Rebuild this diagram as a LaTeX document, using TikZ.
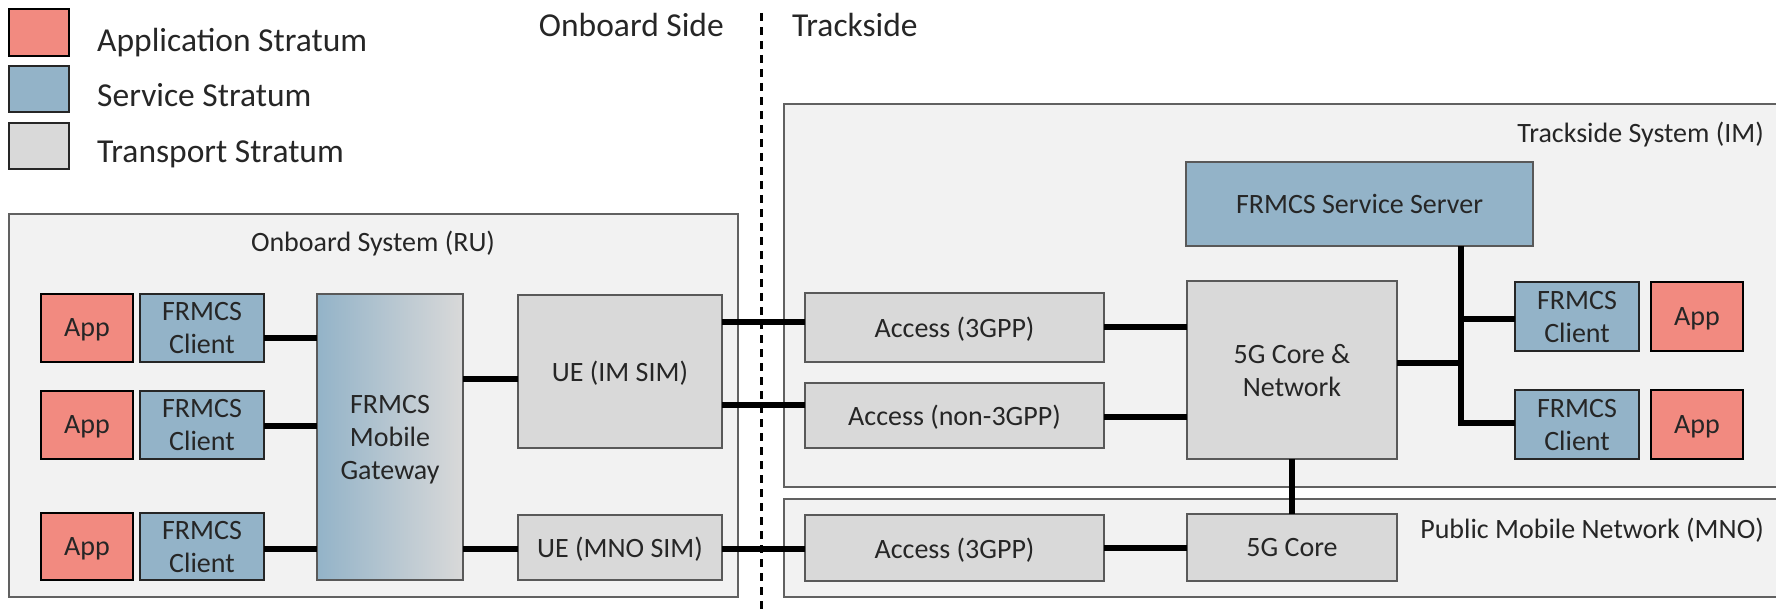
\documentclass[tikz,border=0pt]{standalone}
\usepackage{fontspec}
\setmainfont{Carlito}
\definecolor{appc}{RGB}{242,138,128}
\definecolor{svcc}{RGB}{147,179,200}
\definecolor{trc}{RGB}{217,217,217}
\definecolor{bgc}{RGB}{242,242,242}
\definecolor{txt}{RGB}{38,38,38}
\begin{document}
\begin{tikzpicture}[x=1pt,y=-1pt,
  lbl/.style={font=\fontsize{28}{33}\selectfont, text=txt, align=center},
  hdr/.style={font=\fontsize{33.5}{38}\selectfont, text=txt, inner sep=0},
  sub/.style={font=\fontsize{28}{33}\selectfont, text=txt, inner sep=0},
  box/.style={lbl, draw=black!65, line width=2pt, inner sep=0, outer sep=0, text depth=0pt},
  appbox/.style={box, fill=appc, draw=black, line width=2.5pt},
  svcbox/.style={box, fill=svcc, draw=black!85, line width=2.5pt},
  srvbox/.style={box, fill=svcc},
  trbox/.style={box, fill=trc},
  gwbox/.style={box, left color=svcc, right color=trc},
  container/.style={draw=black!62, fill=bgc, line width=2pt, inner sep=0, outer sep=0, anchor=north west},
  conn/.style={line width=6.5pt, black},
  divider/.style={line width=3pt, black, dash pattern=on 8pt off 6pt}]
\useasboundingbox (0,0) rectangle (1776,609);
\clip (0,0) rectangle (1776,609);

% legend
\node[appbox, minimum width=60, minimum height=47] (legapp) at (39,32.5) {};
\node[svcbox, minimum width=60, minimum height=46] (legsvc) at (39,89) {};
\node[trbox, draw=black!85, line width=2.5pt, minimum width=60, minimum height=46] (legtr) at (39,146) {};
\node[hdr, anchor=base west] (legapptxt) at (97,52) {Application Stratum};
\node[hdr, anchor=base west] (legsvctxt) at (97,107) {Service Stratum};
\node[hdr, anchor=base west] (legtrtxt) at (97,163) {Transport Stratum};

% side labels
\node[hdr, anchor=base east] (onside) at (724,37) {Onboard Side};
\node[hdr, anchor=base west] (trside) at (792,37) {Trackside};

% containers
\node[container, minimum width=729, minimum height=383] (onboard) at (9,214) {};
\node[container, minimum width=1000, minimum height=383] (track) at (784,104) {};
\node[container, minimum width=1000, minimum height=98] (mno) at (784,499) {};
\node[sub, anchor=base] (onboardlbl) at (373,252) {Onboard System (RU)};
\node[sub, anchor=base east] (tracklbl) at (1764,143) {Trackside System (IM)};
\node[sub, anchor=base east] (mnolbl) at (1764,538) {Public Mobile Network (MNO)};

% divider
\draw[divider] (761,13) -- (761,609);

% onboard boxes
\node[appbox, minimum width=92, minimum height=68] (app1) at (87,328) {App};
\node[appbox, minimum width=92, minimum height=68] (app2) at (87,425) {App};
\node[appbox, minimum width=92, minimum height=67] (app3) at (87,546.5) {App};
\node[svcbox, minimum width=124, minimum height=68] (cl1) at (202,328) {FRMCS\\Client};
\node[svcbox, minimum width=124, minimum height=68] (cl2) at (202,425) {FRMCS\\Client};
\node[svcbox, minimum width=124, minimum height=67] (cl3) at (202,546.5) {FRMCS\\Client};
\node[gwbox, minimum width=146, minimum height=286] (gw) at (390,437) {FRMCS\\Mobile\\Gateway};
\node[trbox, minimum width=204, minimum height=153] (ueim) at (620,371.5) {UE (IM SIM)};
\node[trbox, minimum width=204, minimum height=65] (uemno) at (620,547.5) {UE (MNO SIM)};

% trackside boxes
\node[trbox, minimum width=299, minimum height=69] (acc1) at (954.5,327.5) {Access (3GPP)};
\node[trbox, minimum width=299, minimum height=65] (acc2) at (954.5,415.5) {Access (non-3GPP)};
\node[trbox, minimum width=299, minimum height=66] (acc3) at (954.5,548) {Access (3GPP)};
\node[srvbox, minimum width=347, minimum height=84] (srv) at (1359.5,204) {FRMCS Service Server};
\node[trbox, minimum width=210, minimum height=178] (core) at (1292,370) {5G Core \&\\Network};
\node[trbox, minimum width=210, minimum height=67] (core5g) at (1292,547.5) {5G Core};
\node[svcbox, minimum width=124, minimum height=69] (rcl1) at (1577,316.5) {FRMCS\\Client};
\node[svcbox, minimum width=124, minimum height=69] (rcl2) at (1577,424.5) {FRMCS\\Client};
\node[appbox, minimum width=92, minimum height=69] (rapp1) at (1697,316.5) {App};
\node[appbox, minimum width=92, minimum height=69] (rapp2) at (1697,424.5) {App};

% connectors onboard
\draw[conn] (cl1.east |- 0,338) -- (gw.west |- 0,338);
\draw[conn] (cl2.east |- 0,426) -- (gw.west |- 0,426);
\draw[conn] (cl3.east |- 0,549) -- (gw.west |- 0,549);
\draw[conn] (gw.east |- 0,379) -- (ueim.west |- 0,379);
\draw[conn] (gw.east |- 0,549) -- (uemno.west |- 0,549);
% onboard to trackside
\draw[conn] (ueim.east |- 0,322) -- (acc1.west |- 0,322);
\draw[conn] (ueim.east |- 0,405) -- (acc2.west |- 0,405);
\draw[conn] (uemno.east |- 0,549) -- (acc3.west |- 0,549);
% access to core
\draw[conn] (acc1.east |- 0,327) -- (core.west |- 0,327);
\draw[conn] (acc2.east |- 0,417) -- (core.west |- 0,417);
\draw[conn] (acc3.east |- 0,548) -- (core5g.west |- 0,548);
\draw[conn, line width=6pt] (core.south) -- (core5g.north);
% bus
\coordinate (bustop) at (srv.south -| 1461,0);
\coordinate (busmid) at (1461,319);
\coordinate (buscore) at (1461,363);
\coordinate (busbot) at (1461,423);
\draw[conn] (bustop) -- (busbot) -- (rcl2.west |- busbot);
\draw[conn] (busmid) -- (rcl1.west |- busmid);
\draw[conn] (core.east |- buscore) -- (buscore);
\end{tikzpicture}
\end{document}
